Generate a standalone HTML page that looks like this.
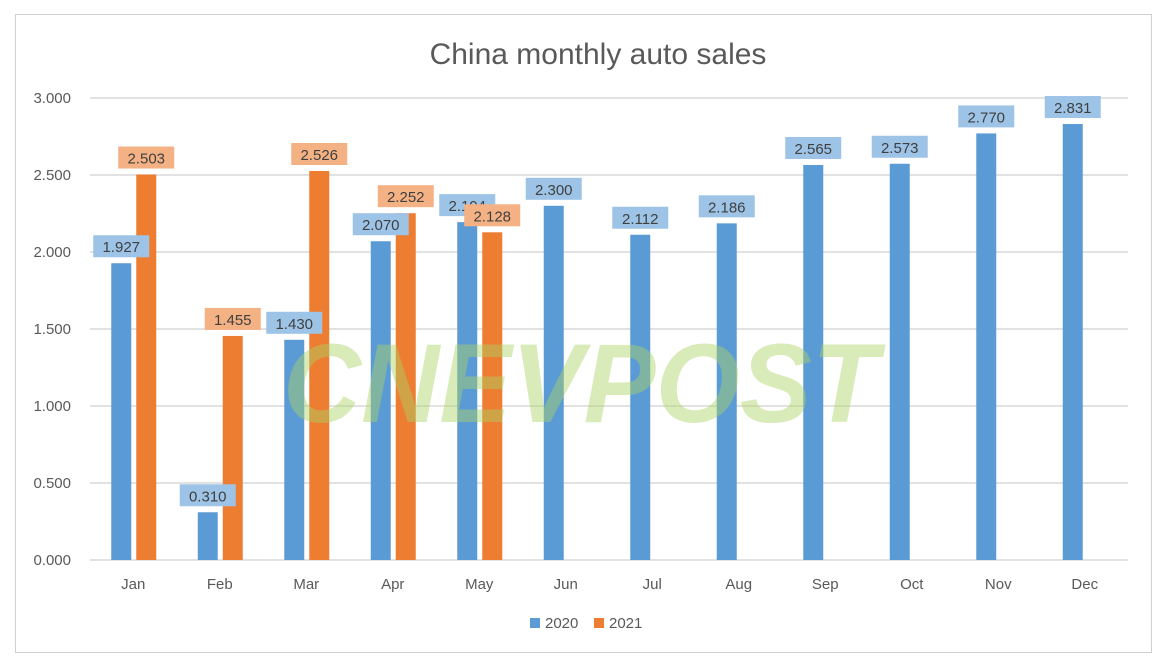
<!DOCTYPE html>
<html><head><meta charset="utf-8"><style>
body{margin:0;background:#fff;}
svg{display:block;font-family:"Liberation Sans",sans-serif;}
</style></head><body>
<svg width="1169" height="670" xmlns="http://www.w3.org/2000/svg">
<rect x="0" y="0" width="1169" height="670" fill="#fff"/>
<rect x="15.5" y="14.5" width="1136" height="638" fill="none" stroke="#d0d0d0"/>
<text x="598" y="64" text-anchor="middle" font-size="30" fill="#595959">China monthly auto sales</text>
<g stroke="#d9d9d9" stroke-width="1.5">
<line x1="90" x2="1128" y1="98" y2="98"/>
<line x1="90" x2="1128" y1="175" y2="175"/>
<line x1="90" x2="1128" y1="252" y2="252"/>
<line x1="90" x2="1128" y1="329" y2="329"/>
<line x1="90" x2="1128" y1="406" y2="406"/>
<line x1="90" x2="1128" y1="483" y2="483"/>
<line x1="90" x2="1128" y1="560" y2="560"/>
</g>
<g font-size="15" fill="#595959" text-anchor="end">
<text x="71" y="103">3.000</text><text x="71" y="180">2.500</text><text x="71" y="257">2.000</text>
<text x="71" y="334">1.500</text><text x="71" y="411">1.000</text><text x="71" y="488">0.500</text><text x="71" y="565">0.000</text>
</g>
<g id="bars"></g>
<text x="283" y="422" font-size="112" font-weight="bold" font-style="italic" fill="rgb(170,210,100)" fill-opacity="0.45" textLength="595" lengthAdjust="spacingAndGlyphs">CNEVPOST</text>
<g id="labels"></g>
<g font-size="15" fill="#595959" text-anchor="middle" id="xl"></g>
<rect x="530" y="618" width="10" height="10" fill="#5b9bd5"/>
<text x="545" y="628" font-size="15" fill="#595959">2020</text>
<rect x="594" y="618" width="10" height="10" fill="#ed7d31"/>
<text x="609" y="628" font-size="15" fill="#595959">2021</text>
<script>
var m=["Jan","Feb","Mar","Apr","May","Jun","Jul","Aug","Sep","Oct","Nov","Dec"];
var a=[1.927,0.310,1.430,2.070,2.194,2.300,2.112,2.186,2.565,2.573,2.770,2.831];
var b=[2.503,1.455,2.526,2.252,2.128];
var NS="http://www.w3.org/2000/svg";
function el(p,t,o,txt){var e=document.createElementNS(NS,t);for(var k in o)e.setAttribute(k,o[k]);if(txt)e.textContent=txt;document.getElementById(p).appendChild(e);}
function y(v){return 560-v*154;}
for(var i=0;i<12;i++){
 var c=90+86.5*(i+0.5);
 el("xl","text",{x:c,y:589},m[i]);
 el("bars","rect",{x:c-22,y:y(a[i]),width:20,height:a[i]*154,fill:"#5b9bd5"});
 el("labels","rect",{x:c-12-28,y:y(a[i])-28,width:56,height:22,fill:"#9dc3e6"});
 el("labels","text",{x:c-12,y:y(a[i])-11,"font-size":15,fill:"#404040","text-anchor":"middle"},a[i].toFixed(3));
 if(i<5){
  el("bars","rect",{x:c+3,y:y(b[i]),width:20,height:b[i]*154,fill:"#ed7d31"});
  el("labels","rect",{x:c+13-28,y:y(b[i])-28,width:56,height:22,fill:"#f4b183"});
  el("labels","text",{x:c+13,y:y(b[i])-11,"font-size":15,fill:"#404040","text-anchor":"middle"},b[i].toFixed(3));
 }
}
</script>
</svg>
</body></html>
